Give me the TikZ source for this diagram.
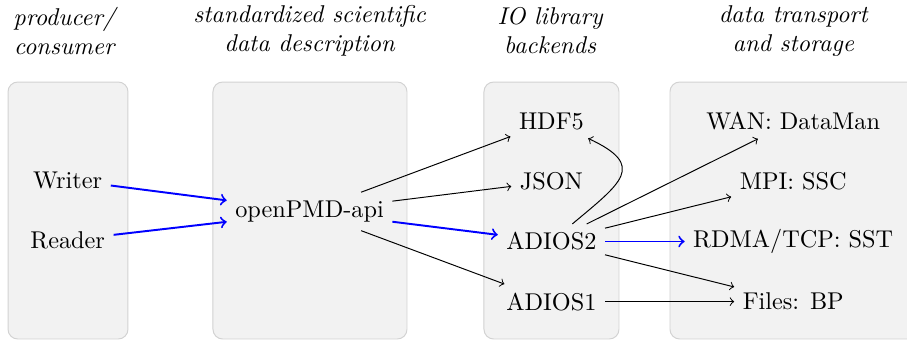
\documentclass[tikz,border=0pt]{standalone}
\usetikzlibrary{positioning}

\begin{document}
\begin{tikzpicture}[node distance = {8.7mm}, layer/.style = {draw = gray!35, fill = gray!10, rounded corners = 4pt}, head/.style = {align = center, font = \itshape}, main/.style = {->, blue, thick}]
	\useasboundingbox (0,0) rectangle (13.126,4.935);
	% the four layers
	\draw[layer] (0.116,0.029) rectangle (1.852,3.748);
	\draw[layer] (3.082,0.029) rectangle (5.890,3.748);
	\draw[layer] (7.004,0.029) rectangle (8.958,3.748);
	\draw[layer] (9.696,0.029) rectangle (13.4,3.748);
	\node[head] (h1) at (0.93,4.49) {producer/\\consumer};
	\node[head] (h2) at (4.48,4.49) {standardized scientific\\data description};
	\node[head] (h3) at (7.96,4.49) {IO library\\backends};
	\node[head] (h4) at (11.48,4.49) {data transport\\and storage};
	\node (writer) at (0.98,2.33) {Writer};
	\node (reader) [below of=writer] {Reader};
	\node (api) at (4.48,1.875) {openPMD-api};
	\node (hdf5) at (7.98,3.18) {HDF5};
	\node (json) [below of=hdf5] {JSON};
	\node (adios2) [below of=json] {ADIOS2};
	\node (adios1) [below of=adios2] {ADIOS1};
	\node (wan) at (11.48,3.18) {WAN: DataMan};
	\node (ssc) [below of=wan] {MPI: SSC};
	\node (sst) [below of=ssc] {RDMA/TCP: SST};
	\node (bp) [below of=sst] {Files: BP};
	\draw[main] (writer) -- ([yshift=1.6mm]api.west);
	\draw[main] (reader) -- ([yshift=-1.5mm]api.west);
	\draw[->] (api) -- (hdf5);
	\draw[->] (api) -- (json);
	\draw[main] (api) -- (adios2);
	\draw[->] (api) -- (adios1);
	\draw[->] (adios2) to [out=40, in=-25, looseness=1.9] (hdf5);
	\draw[->] (adios2) -- (wan);
	\draw[->] (adios2) -- (ssc);
	\draw[main] (adios2) -- (sst);
	\draw[->] (adios2) -- (bp);
	\draw[->] (adios1) -- (bp);
\end{tikzpicture}
\end{document}
